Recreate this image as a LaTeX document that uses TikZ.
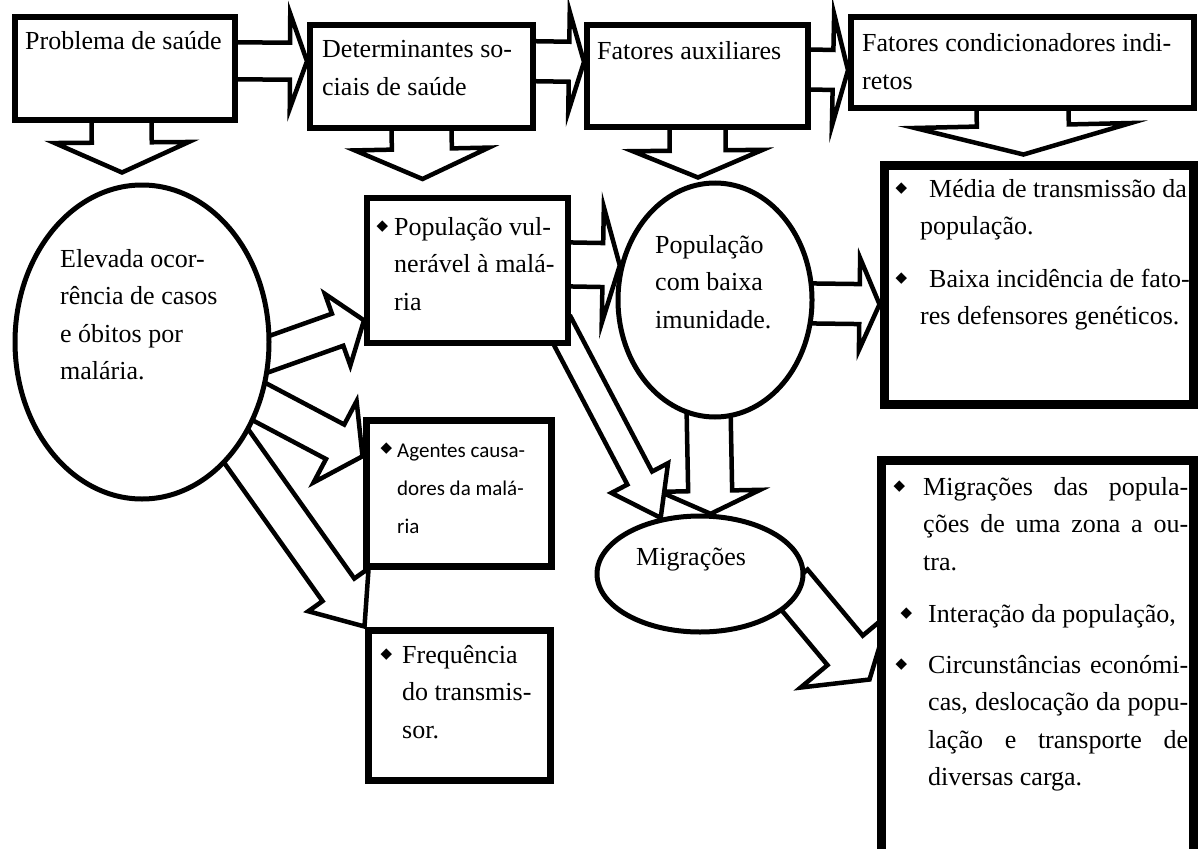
\documentclass[tikz,border=0pt]{standalone}
\usepackage{fontspec}
\setmainfont{Liberation Serif}
\newfontfamily\agentfont{Carlito}
\newfontfamily\symbolfont{DejaVu Sans}
\usetikzlibrary{calc,backgrounds,shapes.geometric}
\hbadness=10000
\tolerance=10000

% body text, sans text of one box, and the diamond bullet
\newcommand\bodyfont{\fontsize{26pt}{37.5pt}\selectfont}
\newcommand\agentbody{\agentfont\fontsize{21pt}{38pt}\selectfont}
\newcommand\dia[1]{\llap{\raisebox{4.5pt}{\symbolfont\fontsize{15pt}{15pt}\selectfont ◆}\hspace{#1}}}

% hollow block arrow: [style] tail, tip, shaft half-width, head half-width, head length
\newcommand\blockarrow[6][]{%
  \coordinate (ba-t) at (#3);
  \coordinate (ba-s0) at (#2);
  \coordinate (ba-s) at ($(ba-s0)!-14pt!(ba-t)$);
  \coordinate (ba-h) at ($(ba-t)!#6pt!(ba-s)$);
  \draw[barrow,#1] ($(ba-s)!#4pt!90:(ba-t)$) -- ($(ba-h)!#4pt!-90:(ba-s)$)
    -- ($(ba-h)!#5pt!-90:(ba-s)$) -- (ba-t) -- ($(ba-h)!#5pt!90:(ba-s)$)
    -- ($(ba-h)!#4pt!90:(ba-s)$) -- ($(ba-s)!#4pt!-90:(ba-t)$) -- cycle;
}

\tikzset{
  box/.style={draw, rectangle, fill=white, line width=6pt, inner sep=0pt},
  oval/.style={draw, ellipse, fill=white, line width=5pt, inner sep=0pt},
  barrow/.style={draw, fill=white, line width=4.5pt, line join=miter},
  txt/.style={anchor=base west, inner sep=0pt, font=\bodyfont, align=flush left, text width=330pt},
  jtxt/.style={anchor=base west, inner sep=0pt, font=\bodyfont, align=justify},
}

\begin{document}
\begin{tikzpicture}[x=1pt, y=-1pt]
\useasboundingbox (0,0) rectangle (1198,848);

% top row
\node[box, minimum width=220, minimum height=103] (b1) at (125,68.5) {};
\node[box, minimum width=223, minimum height=103] (b2) at (421.5,76.5) {};
\node[box, minimum width=221, minimum height=102] (b3) at (697.5,76) {};
\node[box, minimum width=343, minimum height=91] (b4) at (1022.5,62.5) {};

% second level
\node[oval, minimum width=254, minimum height=314] (e1) at (142,342) {};
\node[box, minimum width=201, minimum height=145] (pv) at (467.5,270.5) {};
\node[oval, minimum width=194, minimum height=234] (e2) at (715,300) {};
\node[box, line width=9pt, minimum width=309, minimum height=239] (mt) at (1038.5,284.5) {};

% lower level
\node[box, line width=7pt, minimum width=185, minimum height=146] (ag) at (458.5,493) {};
\node[box, line width=7pt, minimum width=182, minimum height=150] (fr) at (459,705) {};
\node[oval, minimum width=206, minimum height=116] (mg) at (700,574) {};
\node[box, line width=9pt, minimum width=312, minimum height=440] (mi) at (1037,680) {};

% texts
\node[txt] (t-b1) at (25,50) {Problema de saúde};
\node[txt] (t-b2) at (322,58) {Determinantes so-\\ciais de saúde};
\node[txt] (t-b3) at (597,60) {Fatores auxiliares};
\node[txt] (t-b4) at (862,52) {Fatores condicionadores indi-\\retos};
\node[txt] (t-e1) at (60,267) {Elevada ocor-\\rência de casos\\e óbitos por\\malária.};
\node[txt] (t-pv) at (394,235) {\dia{6pt}População vul-\\nerável à malá-\\ria};
\node[txt] (t-e2) at (655,253) {População\\com baixa\\imunidade.};
\node[txt] (t-mt1) at (920,197) {\dia{13pt}\hspace{9pt}Média de transmissão da\\população.};
\node[txt] (t-mt2) at (920,287) {\dia{13pt}\hspace{9pt}Baixa incidência de fato-\\res defensores genéticos.};
\node[txt, font=\agentbody] (t-ag) at (397,457) {\dia{5pt}Agentes causa-\\dores da malá-\\ria};
\node[txt] (t-fr) at (402,663) {\dia{10pt}Frequência\\do transmis-\\sor.};
\node[txt] (t-mg) at (636,565) {Migrações};
\node[jtxt, text width=265pt] (t-mi1) at (923,495)
  {\dia{18pt}Migrações das popula-\linebreak ções de uma zona a ou-\linebreak tra.};
\node[jtxt, text width=260pt] (t-mi2) at (928,622) {\dia{16pt}Interação da população,};
\node[jtxt, text width=260pt] (t-mi3) at (928,673)
  {\dia{21pt}Circunstâncias económi-\linebreak cas, deslocação da popu-\linebreak lação e transporte de\linebreak diversas carga.};

% block arrows, behind the shapes
\begin{pgfonlayer}{background}
\fill[white] (0,0) rectangle (1198,848);
% along the top row
\blockarrow{$(b1.north east)!0.43!(b1.south east)$}{$(b2.north west)!0.36!(b2.south west)$}{18.5}{47.5}{17}
\blockarrow{$(b2.north east)!0.36!(b2.south east)$}{$(b3.north west)!0.37!(b3.south west)$}{20}{50}{15}
\blockarrow{$(b3.north east)!0.44!(b3.south east)$}{$(b4.north west)!0.58!(b4.south west)$}{20}{56}{15}
% down from the top row
\blockarrow{$(b1.south west)!0.485!(b1.south east)$}{$(e1.north)+(-20,-10)$}{30}{67}{30}
\blockarrow{$(b2.south west)!0.5!(b2.south east)$}{$(pv.north)+(-45,-16)$}{30}{67}{30}
\blockarrow{$(b3.south west)!0.5!(b3.south east)$}{$(e2.north)+(-17,-3)$}{28}{65}{27}
\blockarrow{$(b4.south west)!0.5!(b4.south east)$}{$(mt.north)+(-15,-6)$}{46}{108}{29}
% out of the large ellipse
\blockarrow{e1.-5}{$(pv.north west)!0.83!(pv.south west)$}{17}{38}{28}
\blockarrow{e1.-27}{$(ag.north west)!0.26!(ag.south west)$}{19.5}{46}{31}
\blockarrow{e1.-48}{fr.north west}{19.5}{37}{45}
% middle and lower right
\blockarrow{$(pv.north east)!0.46!(pv.south east)$}{e2.160}{22}{58}{17}
\blockarrow{e2.-2}{$(mt.north west)!0.58!(mt.south west)$}{20}{46}{20}
\blockarrow{e2.-93}{mg.80}{22}{50}{23}
\blockarrow{$(pv.south east)+(-6,-10)$}{mg.125}{14}{32}{45}
\blockarrow{mg.-12}{$(mi.north west)+(-7,224)$}{23}{58}{38}
\end{pgfonlayer}
\end{tikzpicture}
\end{document}
